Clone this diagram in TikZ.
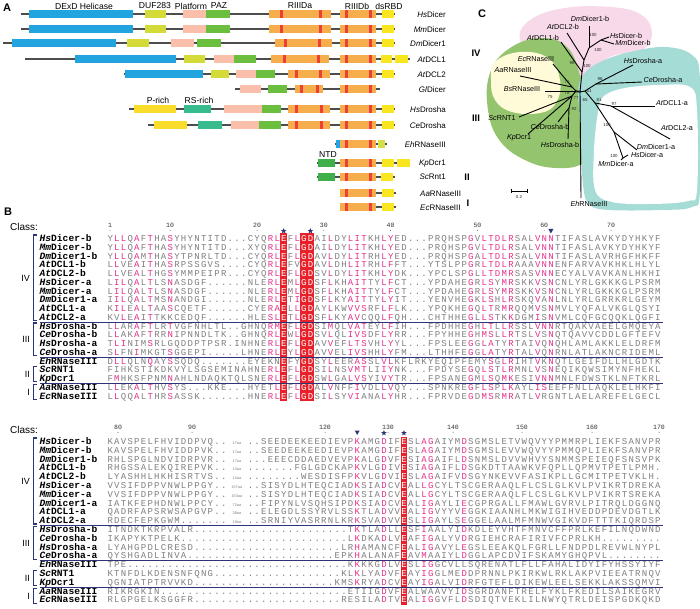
\documentclass[tikz,border=0pt]{standalone}
\usepackage{fontspec}
\setmainfont{Liberation Sans}
\setmonofont{Liberation Mono}
\usetikzlibrary{shapes.geometric}

% domain colours
\definecolor{helicase}{HTML}{22A5DE}
\definecolor{duf}{HTML}{D4DB39}
\definecolor{platform}{HTML}{FABFAB}
\definecolor{paz}{HTML}{6CBE3F}
\definecolor{rnase}{HTML}{F6AD4C}
\definecolor{rnred}{HTML}{EE3F36}
\definecolor{dsrbd}{HTML}{F9E620}
\definecolor{prich}{HTML}{FADD2A}
\definecolor{rsrich}{HTML}{38BC8E}
\definecolor{ntd}{HTML}{3FAF4A}
\definecolor{ehds}{HTML}{D5DF48}
\definecolor{bbgray}{HTML}{4D4D4D}
% alignment colours
\definecolor{respink}{HTML}{E5318B}
\definecolor{resgray}{HTML}{7F7F7F}
\definecolor{colred}{HTML}{E8202A}
\definecolor{navy}{HTML}{2E3576}
% tree colours
\definecolor{cladepink}{HTML}{F8D9EA}
\definecolor{cladegreen}{HTML}{94C56E}
\definecolor{cladeyellow}{HTML}{FFFBD8}
\definecolor{cladeteal}{HTML}{A6DCD6}

% one residue per column, lower case = conserved (pink), - = blank,
% residues in the invariant (red) columns are set in white
\newlength\colw
\setlength\colw{6.68pt}
\newcount\rescol
\newif\ifredcol
\def\redtestA{\redcolfalse\ifnum\rescol=27 \redcoltrue\fi\ifnum\rescol=30 \redcoltrue\fi\ifnum\rescol=31 \redcoltrue\fi}
\def\redtestB{\redcolfalse\ifnum\rescol=45 \redcoltrue\fi}
\let\redtest\redtestA
\newcommand\resone[1]{\global\advance\rescol by 1 \redtest
  \makebox[\colw]{\ifredcol\textcolor{white}{#1}\else\ifnum`#1>96 \textcolor{respink}{\uppercase{#1}}\else\ifx-#1\else#1\fi\fi\fi}}
\def\resloop#1{\ifx\relax#1\else\resone{#1}\expandafter\resloop\fi}
\newcommand\alnrow[5]{%
  \node[seqname] (#2) at (39.5,#1) {\textit{#3}#4};
  \node[seqtext] (#2-res) at (106.66,#1) {\global\rescol=0 \resloop#5\relax};}
\newcommand\dombox[4]{\fill[#1] (#2,#4-4) rectangle (#3,#4+4);}
\newcommand\rstripe[2]{\fill[rnred] (#1,#2-4) rectangle (#1+3.2,#2+4);}
\newcommand\rnasea[5]{\dombox{rnase}{#1}{#2}{#5}\rstripe{#3}{#5}\rstripe{#4}{#5}}
\newcommand\rnaseb[1]{\dombox{rnase}{340}{376}{#1}\rstripe{345}{#1}\rstripe{368.5}{#1}}

\begin{document}
\begin{tikzpicture}[x=1pt, y=-1pt,
  backbone/.style={draw=bbgray, line width=1.1pt},
  domlabel/.style={font=\fontsize{8.6}{9}\selectfont, inner sep=0pt},
  protlabel/.style={font=\fontsize{8}{9}\selectfont, inner sep=0pt, anchor=east},
  classA/.style={font=\fontsize{9.5}{10}\selectfont\bfseries, inner sep=0pt},
  panel/.style={font=\fontsize{11}{12}\selectfont\bfseries, inner sep=0pt},
  seqname/.style={font=\fontsize{9.6}{9.6}\selectfont\ttfamily\bfseries, inner sep=0pt, anchor=base west},
  seqtext/.style={font=\fontsize{9}{9}\selectfont\ttfamily, text=resgray, inner sep=0pt, anchor=base west},
  colnum/.style={font=\fontsize{6.5}{7}\selectfont\ttfamily, text=black!80, inner sep=0pt},
  inslabel/.style={font=\fontsize{3.8}{4}\selectfont, text=resgray, inner sep=0pt, anchor=base},
  sepline/.style={draw=navy, line width=0.9pt},
  bracket/.style={draw=navy, line width=1.1pt},
  romanB/.style={font=\fontsize{9}{10}\selectfont, inner sep=0pt, anchor=east},
  starmark/.style={star, star points=5, star point ratio=2.4, fill=navy, inner sep=0pt, minimum size=6pt},
  branch/.style={draw=black, line width=0.9pt},
  leaf/.style={font=\fontsize{7.2}{8}\selectfont, inner sep=0pt},
  boot/.style={font=\fontsize{4.4}{5}\selectfont, inner sep=0pt, text=black!85},
]
\useasboundingbox (0,0) rectangle (700,609);
\fill[white] (0,0) rectangle (700,609);

% Panel letters
\node[panel] (pA) at (7,8) {A};
\node[panel] (pB) at (8,212) {B};
\node[panel] (pC) at (482,14) {C};

%%%%%%%%%%%%%%%% A: domain maps
\node[domlabel] (lhel) at (84,6) {DExD Helicase};
\node[domlabel] (lduf) at (155,6) {DUF283};
\node[domlabel] (lplat) at (191,6) {Platform};
\node[domlabel] (lpaz) at (219,6) {PAZ};
\node[domlabel] (lra) at (300,6) {RIIIDa};
\node[domlabel] (lrb) at (357,6) {RIIIDb};
\node[domlabel] (lds) at (389,6) {dsRBD};
\node[domlabel] (lpr) at (158,100) {P-rich};
\node[domlabel] (lrs) at (199,100) {RS-rich};
\node[domlabel] (lntd) at (328,155) {NTD};

% HsDicer
\draw[backbone] (21,14) -- (395,14);
\dombox{helicase}{29}{133}{14}\dombox{duf}{145}{166}{14}\dombox{platform}{183}{206}{14}\dombox{paz}{206}{230}{14}
\rnasea{269}{331}{279.5}{318.5}{14}\rnaseb{14}\dombox{dsrbd}{382}{394}{14}
% MmDicer
\draw[backbone] (21,29) -- (395,29);
\dombox{helicase}{29}{133}{29}\dombox{duf}{145}{166}{29}\dombox{platform}{183}{206}{29}\dombox{paz}{206}{230}{29}
\rnasea{269}{331}{279.5}{318.5}{29}\rnaseb{29}\dombox{dsrbd}{382}{394}{29}
% DmDicer1
\draw[backbone] (3,43) -- (395,43);
\dombox{helicase}{12}{116}{43}\dombox{duf}{127}{149}{43}\dombox{platform}{171}{194}{43}\dombox{paz}{197}{221}{43}
\rnasea{275}{332}{284}{318}{43}\rnaseb{43}\dombox{dsrbd}{382}{394}{43}
% AtDCL1
\draw[backbone] (25,59) -- (410,59);
\dombox{helicase}{75}{176}{59}\dombox{duf}{184}{205}{59}\dombox{platform}{214}{234}{59}\dombox{paz}{234}{256}{59}
\rnasea{271}{329}{283}{317}{59}\rnaseb{59}\dombox{dsrbd}{381}{392}{59}\dombox{dsrbd}{395}{408}{59}
% AtDCL2
\draw[backbone] (124,74) -- (395,74);
\dombox{helicase}{125}{203}{74}\dombox{duf}{211}{229}{74}\dombox{platform}{236}{256}{74}\dombox{paz}{256}{275}{74}
\rnasea{288}{330}{295}{319}{74}\rnaseb{74}\dombox{dsrbd}{382}{394}{74}
% GlDicer
\draw[backbone] (235,89) -- (380,89);
\dombox{platform}{240}{261}{89}\dombox{paz}{268}{287}{89}
\rnasea{295}{323}{300}{315.5}{89}\rnaseb{89}
% HsDrosha
\draw[backbone] (129,109) -- (395,109);
\dombox{prich}{134}{176}{109}\dombox{rsrich}{184}{211}{109}\dombox{platform}{224}{262}{109}\dombox{paz}{262}{281}{109}
\rnasea{288}{330}{295}{320}{109}\rnaseb{109}\dombox{dsrbd}{382}{394}{109}
% CeDrosha
\draw[backbone] (148,125) -- (395,125);
\dombox{prich}{154}{187}{125}\dombox{rsrich}{198}{222}{125}\dombox{platform}{231}{259}{125}\dombox{paz}{259}{281}{125}
\rnasea{288}{330}{295}{320}{125}\rnaseb{125}\dombox{dsrbd}{382}{394}{125}
% EhRNaseIII
\draw[backbone] (335,144) -- (387,144);
\dombox{helicase}{336}{339.5}{144}\rnaseb{144}\dombox{ehds}{378}{385}{144}
% KpDcr1
\draw[backbone] (317,163) -- (410,163);
\dombox{ntd}{318}{335}{163}\rnaseb{163}\dombox{dsrbd}{382}{394}{163}\dombox{dsrbd}{397}{410}{163}
% ScRnt1
\draw[backbone] (317,177) -- (395,177);
\dombox{ntd}{318}{335}{177}\rnaseb{177}\dombox{dsrbd}{381}{393}{177}
% AaRNaseIII
\draw[backbone] (340,193) -- (396,193);
\rnaseb{193}\dombox{dsrbd}{382}{394}{193}
% EcRNaseIII
\draw[backbone] (340,207) -- (396,207);
\rnaseb{207}\dombox{dsrbd}{382}{394}{207}

% protein names
\node[protlabel] (nHs) at (446,15) {\textit{Hs}Dicer};
\node[protlabel] (nMm) at (446,30) {\textit{Mm}Dicer};
\node[protlabel] (nDm) at (446,44) {\textit{Dm}Dicer1};
\node[protlabel] (nAt1) at (446,60) {\textit{At}DCL1};
\node[protlabel] (nAt2) at (446,75) {\textit{At}DCL2};
\node[protlabel] (nGl) at (446,90) {\textit{Gl}Dicer};
\node[protlabel] (nHsD) at (446,110) {\textit{Hs}Drosha};
\node[protlabel] (nCeD) at (446,126) {\textit{Ce}Drosha};
\node[protlabel] (nEh) at (446,145) {\textit{Eh}RNaseIII};
\node[protlabel] (nKp) at (446,164) {\textit{Kp}Dcr1};
\node[protlabel] (nSc) at (446,177) {\textit{Sc}Rnt1};
\node[protlabel, anchor=west] (nAa) at (420,194) {\textit{Aa}RNaseIII};
\node[protlabel, anchor=west] (nEc) at (420,208) {\textit{Ec}RNaseIII};
\node[classA] (cIV) at (476,53) {IV};
\node[classA] (cIII) at (476,118) {III};
\node[classA] (cII) at (467,177) {II};
\node[classA] (cI) at (468,203) {I};

%%%%%%%%%%%%%%%% C: tree
% Draw the clade backgrounds
\fill[cladepink] plot[smooth cycle, tension=0.7] coordinates {(520,40) (530,20) (565,8) (610,7) (640,14) (652,32) (642,50) (612,56) (597,68) (586,84) (570,76) (540,55)};
\fill[cladegreen] plot[smooth cycle, tension=0.7] coordinates {(542,38) (568,48) (581,78) (590,108) (592,143) (583,163) (557,168) (527,161) (500,141) (488,110) (490,73) (510,48)};
\fill[cladeyellow] plot[smooth cycle, tension=0.7] coordinates {(495,62) (520,52) (548,58) (560,80) (556,103) (540,113) (512,112) (495,100) (491,80)};
\fill[cladeteal] plot[smooth cycle, tension=0.6] coordinates {(583,75) (600,62) (630,52) (665,47) (692,55) (700,80) (700,190) (692,207) (660,210) (610,210) (590,205) (583,185) (580,120) (578,92)};
\fill[white] plot[smooth cycle, tension=0.6] coordinates {(604,96) (625,88) (660,85) (690,87) (697,110) (697,190) (688,201) (650,204) (612,202) (595,190) (594,150) (598,112)};

% internal nodes
\coordinate (c0) at (580,92);
\coordinate (db1) at (582,72);
\coordinate (db2) at (584,60);
\coordinate (db3) at (589,48);
\coordinate (db4) at (601,40);
\coordinate (gr1) at (576,91);
\coordinate (gr2) at (572,87);
\coordinate (gr3) at (572,96);
\coordinate (gr4) at (569,108);
\coordinate (te1) at (585,91);
\coordinate (te2) at (596,84);
\coordinate (te3) at (595,103);
\coordinate (te4) at (611,106);
\coordinate (te5) at (614,132);
\coordinate (te6) at (623,158);
% leaves
\coordinate (lDm1b) at (589,26);
\coordinate (lAt2b) at (567,33);
\coordinate (lAt1b) at (561,42);
\coordinate (lHsb) at (609,37);
\coordinate (lMmb) at (614,44);
\coordinate (lEc) at (553,64);
\coordinate (lAa) at (520,76);
\coordinate (lBs) at (545,91);
\coordinate (lSc) at (519,117);
\coordinate (lKp) at (528,134);
\coordinate (lCeb) at (558,122);
\coordinate (lHsDb) at (568,139);
\coordinate (lHsDa) at (633,65);
\coordinate (lCeDa) at (642,82);
\coordinate (lAt1a) at (655,106);
\coordinate (lAt2a) at (670,139);
\coordinate (lDm1a) at (637,150);
\coordinate (lHsa) at (628,155);
\coordinate (lMma) at (621,160);
\coordinate (lEh) at (581,198);

% Draw the branches
\foreach \a/\b in {c0/db1, db1/lAt1b, db1/db2, db2/lAt2b, db2/db3, db3/lDm1b, db3/db4, db4/lHsb, db4/lMmb,
                   c0/gr1, gr1/gr2, gr2/lEc, gr2/lAa, gr1/lBs, gr1/gr3, gr3/lSc, gr3/lKp, gr3/gr4, gr4/lCeb, gr4/lHsDb,
                   c0/te1, te1/te2, te2/lHsDa, te2/lCeDa, c0/lEh, te1/te3, te3/te4, te4/lAt1a, te4/lAt2a,
                   te3/te5, te5/lDm1a, te5/te6, te6/lHsa, te6/lMma}
  \draw[branch] (\a) -- (\b);

% leaf names
\node[leaf] (tDm1b) at (590,19) {\textit{Dm}Dicer1-b};
\node[leaf] (tAt2b) at (563,27) {\textit{At}DCL2-b};
\node[leaf] (tAt1b) at (543,38) {\textit{At}DCL1-b};
\node[leaf] (tHsb) at (626,36) {\textit{Hs}Dicer-b};
\node[leaf] (tMmb) at (633,43) {\textit{Mm}Dicer-b};
\node[leaf] (tEc) at (536,59) {\textit{Ec}RNaseIII};
\node[leaf] (tAa) at (513,70) {\textit{Aa}RNaseIII};
\node[leaf] (tBs) at (522,89) {\textit{Bs}RNaseIII};
\node[leaf] (tSc) at (502,118) {\textit{Sc}RNT1};
\node[leaf] (tKp) at (519,138) {\textit{Kp}Dcr1};
\node[leaf] (tCeb) at (550,127) {\textit{Ce}Drosha-b};
\node[leaf] (tHsDb) at (560,145) {\textit{Hs}Drosha-b};
\node[leaf] (tHsDa) at (643,61) {\textit{Hs}Drosha-a};
\node[leaf] (tCeDa) at (663,80) {\textit{Ce}Drosha-a};
\node[leaf] (tAt1a) at (672,103) {\textit{At}DCL1-a};
\node[leaf] (tAt2a) at (677,128) {\textit{At}DCL2-a};
\node[leaf] (tDm1a) at (656,147) {\textit{Dm}Dicer1-a};
\node[leaf] (tHsa) at (647,155) {\textit{Hs}Dicer-a};
\node[leaf] (tMma) at (616,164) {\textit{Mm}Dicer-a};
\node[leaf] (tEh) at (589,204) {\textit{Eh}RNaseIII};

% bootstrap values
\foreach \bx/\by/\bv [count=\k] in {593/35/100, 598/50/100, 572/63/98, 587/66/100, 600/79/96, 567/82/76, 567/93/78,
                                    550/97/75, 578/92/43, 589/91/61, 576/98/77, 585/100/65, 599/100/81, 614/104/97,
                                    574/109/92, 607/125/100, 614/156/100}
  \node[boot] (bs\k) at (\bx,\by) {\bv};

% scale bar
\coordinate (sb1) at (511,191);
\coordinate (sb2) at (527,191);
\draw[branch, line width=0.7pt] (sb1) -- (sb2);
\draw[line width=0.5pt] (511,189) -- (511,193) (527,189) -- (527,193);
\node[boot] (sbl) at (519,197) {0.2};

%%%%%%%%%%%%%%%% B: alignment, block 1
\node[font=\fontsize{10}{10}\selectfont, anchor=west, inner sep=0pt] (class1) at (10,227) {Class:};
\foreach \xx/\nn [count=\k] in {110/1, 170.1/10, 257/20, 323.8/30, 390.6/40, 477.4/50, 544.2/60, 611/70} {
  \node[colnum] (na\k) at (\xx,225.5) {\nn};
  \fill[black!80] (\xx,230.3) circle (0.45);
}
\node[starmark] (sa1) at (283.68,231) {};
\node[starmark] (sa2) at (310.4,231) {};
\fill[navy] (548.4,229) -- (553.4,229) -- (550.9,233.5) -- cycle;

% Draw the invariant columns
\fill[colred] (280.34,233.5) rectangle (287.02,401);
\fill[colred] (300.38,233.5) rectangle (313.74,401);

\let\redtest\redtestA
\alnrow{241.5}{a1}{Hs}{Dicer-b}{YllQaFtHAsYHYNTITD...CYQrlEFlGDAIlDYlitKHlyED...PRQHSPgVltdlrSALvnnTIFASLAVKYDYHKYF}
\alnrow{250.25}{a2}{Mm}{Dicer-b}{YllQaFtHAsYHYNTITD...XYQrlEFlGDAIlDYlitKHlyED...PRQHSPgVltdlrSALvnnTIFASLAVKYDYHKYF}
\alnrow{259}{a3}{Dm}{Dicer1-b}{YllQaMtHAsYTPNRLTD...CYQrlEFlGDAVlDYlitRHlyED...PRQHSPgAltdlrSALvnnTIFASLAVRHGFHKFF}
\alnrow{267.75}{a4}{At}{DCL1-b}{LlVEaItHAsRPSSGVS....CYQrlEFVGDAVlDHlitRHlfFT...YTSLPPgRltdlrAAAvnnENFARVAVKHKLHLYL}
\alnrow{276.5}{a5}{At}{DCL2-b}{LlVEaLtHGsYMMPEIPR...CYQrlEFlGDSVlDYlitKHlyDK...YPCLSPgLltdmrSASvnnECYALVAVKANLHKHI}
\alnrow{285.25}{a6}{Hs}{Dicer-a}{LilQaLtLSnASDGF......NLErlEMlGDSFlKHaitTYlfCT...YPDAHEgRlsYmrSKKvSnCNLYRLGKKKGLPSRM}
\alnrow{294}{a7}{Mm}{Dicer-a}{LilQaLtLSnASDGF......NLErlEMlGDSFlKHaitTYlfCT...YPDAHEgRlsYmrSKKvSnCNLYRLGKKKGLPSRM}
\alnrow{302.75}{a8}{Dm}{Dicer1-a}{IilQaLtMSnANDGI......NLErlETiGDSFlKYaitTYlyIT...YENVHEgKlsHlrSKQvAnLNLYRLGRRKRLGEYM}
\alnrow{311.5}{a9}{At}{DCL1-a}{KilEaLtAAsCQETF......CYEraELlGDAYlKWvvsRFlfLK...YPQKHEgQltRmrQQMvSnMVLYQFALVKGLQSYI}
\alnrow{320.25}{a10}{At}{DCL2-a}{KVlEaItTKKCEDQF......HLEslETlGDSFlKYavCQQlfQH...CHTHHEgLlsTKkDGMiSnVMLCQFGCQQKLQGFI}
\alnrow{329}{a11}{Hs}{Drosha-b}{LlARaFtLRtVGFNHLTL..GHNQrmEFlGDSImQLvatEYlfIH...FPDHHEgHltLlrSSLvnnRTQAKVAEELGMQEYA}
\alnrow{337.75}{a12}{Ce}{Drosha-b}{LlAKaFtRRnIPNNDLTK..GHNQrlEWlGDSVlQLivsDFlyRR...FPYHHEgHmsLlrTSLvSnQTQAVVCDDLGFTEFV}
\alnrow{346.5}{a13}{Hs}{Drosha-a}{TliNIMsRLGQDDPTPSR.INHNErlEFlGDAVvEFltsVHlyYL...FPSLEEgGlaTYrTAIvQnQHLAMLAKKLELDRFM}
\alnrow{355.25}{a14}{Ce}{Drosha-a}{SlFNiMKGTsGGEPI.....LHNErlEYlGDAVvELivsHHlyFM...LTHHFEgGlaTYrTALvQnRNLATLAKNCRIDEML}
\alnrow{364}{a15}{Eh}{RNaseIII}{DllQLNqAYsSQDQ.......EYEKNEFYGDSYlEERasSLvlKFLRKYEQIPFEMYsGlrIHTvKnQTLGEIFDLLHLGDTK}
\alnrow{372.75}{a16}{Sc}{RNT1}{FIHKSTIKDKVYLSGSEMINAHNErlEFlGDSIlNSvmtLIiyNK...FPDYSEgQlsTlrMNLvSnEQIKQWSIMYNFHEKL}
\alnrow{381.5}{a17}{Kp}{Dcr1}{FmHKSFPNMnAHLNDAQKTQLSNErlEFlGDSWlGAlvsYIvyTR...FPSANEgMlsQmkESIvnnMNLFDWSTKLNFTKRL}
\alnrow{390.25}{a18}{Aa}{RNaseIII}{LlEKaLtHVsYS...KKE...HYETlEFlGDALvNFFiVDLlvQY...SPNKREgFlsPlkAYLisEEFFNLLAQKLELHKFI}
\alnrow{399}{a19}{Ec}{RNaseIII}{LlQQaLtHRsASSK.......HNErlEFlGDSIlSYviANAlyHR...FPRVDEgDmsRmrATLvRGNTLAELAREFELGECL}

% class separators and brackets
\draw[sepline] (39.5,322.25) -- (663,322.25);
\draw[sepline] (39.5,357.25) -- (663,357.25);
\draw[sepline] (39.5,383.5) -- (663,383.5);
\draw[bracket] (37,235) -- (33.5,235) -- (33.5,320.5) -- (37,320.5);
\draw[bracket] (37,323) -- (33.5,323) -- (33.5,355.5) -- (37,355.5);
\draw[bracket] (37,366.5) -- (33.5,366.5) -- (33.5,381.5) -- (37,381.5);
\draw[bracket] (37,384.5) -- (33.5,384.5) -- (33.5,399.5) -- (37,399.5);
\node[romanB] (ra4) at (30,278) {IV};
\node[romanB] (ra3) at (30,339.5) {III};
\node[romanB] (ra2) at (30,374) {II};
\node[romanB] (ra1) at (30,392) {I};

%%%%%%%%%%%%%%%% B: alignment, block 2
\node[font=\fontsize{10}{10}\selectfont, anchor=west, inner sep=0pt] (class2) at (10,430) {Class:};
\foreach \xx/\nn [count=\k] in {118/80, 192/90, 325/120, 388/130, 453/140, 522/150, 592/160, 659/170} {
  \node[colnum] (nb\k) at (\xx,427.5) {\nn};
  \fill[black!80] (\xx,432.3) circle (0.45);
}
\fill[navy] (354.7,430.5) -- (359.7,430.5) -- (357.2,435) -- cycle;
\node[starmark] (sb1s) at (383.9,433) {};
\node[starmark] (sb2s) at (403.9,433) {};

% Draw the invariant column
\fill[colred] (400.58,436.5) rectangle (407.26,605);

\let\redtest\redtestB
\alnrow{444.5}{b1}{Hs}{Dicer-b}{KAVSPELFHVIDDPVQ..---..SEEDEEKEEDIEVPkAMGdIFESLagAIYMdSGMSLETVWQVYYPMMRPLIEKFSANVPR}
\alnrow{453.3}{b2}{Mm}{Dicer-b}{KAVSPELFHVIDDPVK..---..SEEDEEKEEDIEVPkAMGdIFESLagAIYMdSGMSLEVVWQVYYPMMQPLIEKFSANVPR}
\alnrow{462.1}{b3}{Dm}{Dicer1-b}{RHLSPGLNDVIDRPVR..---...EEECDDAEDVEVPkALGdVFESIagAIFLdSNMSLDVVWHVYSNMMSPEIEQFSNSVPK}
\alnrow{470.9}{b4}{At}{DCL1-b}{RHGSSALEKQIREPVK..---.......FGLGDCKAPkVLGdIVESIagAIFLdSGKDTTAAWKVFQPLLQPMVTPETLPMH.}
\alnrow{479.7}{b5}{At}{DCL2-b}{LYASHHLHKHISRTVS..---........WESDISFPkVLGdVIESLagAIFVdSGYNKEVVFASIKPLLGCMITPETVKLH.}
\alnrow{488.5}{b6}{Hs}{Dicer-a}{VVSIFDPPVNWLPPGY..---..SISYDLHTEQCIADkSIAdCVEALlgCYLTSCGERAAQLFLCSLGLKVLPVIKRTDREKA}
\alnrow{497.3}{b7}{Mm}{Dicer-a}{VVSIFDPPVNWLPPGY..---..SISYDLHTEQCIADkSIAdCVEALlgCYLTSCGERAAQLFLCSLGLKVLPVIKRTSREKA}
\alnrow{506.1}{b8}{Dm}{Dicer1-a}{IATKFEPHDNWLPPCY..---..FIPYNLVSQHSIPDkSIAdCVEALigAYLIeCGPRGALLFMAWLGVRVLPITRQLDGGNQ}
\alnrow{514.9}{b9}{At}{DCL1-a}{QADRFAPSRWSAPGVP..---..ELEGDLSSYRVLSSkTLAdVVEALigVYYVeGGKIAANHLMKWIGIHVEDDPDEVDGTLK}
\alnrow{523.7}{b10}{At}{DCL2-a}{RDECFEPKGWM.......---..SRNIYVASRRNLKRkSVAdVVESLigAYLSeGGELAALMFMNWVGIKVDFTTTKIQRDSP}
\alnrow{532.5}{b11}{Hs}{Drosha-b}{ITNDKTKRPVALR.......................TkTLAdLLESFiAALYIdKDLEYVHTFMNVCFFPRLKEFILNQDWND}
\alnrow{541.3}{b12}{Ce}{Drosha-b}{IKAPYKTPELK.........................LkDKAdLVEAFigALYVdRGIEHCRAFIRIVFCPRLKH.........}
\alnrow{550.1}{b13}{Hs}{Drosha-a}{LYAHGPDLCRESD......................LRhAMANCFEALigAVYLeGSLEEAKQLFGRLLFNDPDLREVWLNYPL}
\alnrow{558.9}{b14}{Ce}{Drosha-a}{QYSHGADLINVA......................EPKhALANAFEAVmAAIYLdGGLAPCDVIFSKAMYGHQPVL........}
\alnrow{567.7}{b15}{Eh}{RNaseIII}{TPE.................................KkKKGdLVESLigGCVLLSQRENATLFLLFAHALIDYIFYHSSYIYF}
\alnrow{576.5}{b16}{Sc}{RNT1}{KTNFDLKDENSNFQNG...................KLkLYAdVFEAYigGLMEdDPRNNLPKIRKWLRKLAKPVIEEATRNQV}
\alnrow{585.3}{b17}{Kp}{Dcr1}{QGNIATPTRVVKD.....................KMSkRYAdCVEAYigALVIdRFGTEFLDIKEWLEELSEKKLAKSSQMVI}
\alnrow{594.1}{b18}{Aa}{RNaseIII}{RIKRGKIN............................ETIIGdVFEALWAAVYIdSGRDANFTRELFYKLFKEDILSAIKEGRV}
\alnrow{602.9}{b19}{Ec}{RNaseIII}{RLGPGELKSGGFR......................RESILAdTVEALigGVFLdSDIQTVEKLILNWYQTRLDEISPGDKQKD}

% insertion lengths
\foreach \yb/\ins [count=\k] in {444.5/17aa, 453.3/17aa, 462.1/17aa, 470.9/13aa, 479.7/12aa, 488.5/157aa,
                                 497.3/153aa, 506.1/72aa, 514.9/38aa, 523.7/18aa}
  \node[inslabel] (ins\k) at (236.9,\yb) {\ins};

% class separators and brackets
\draw[sepline] (39.5,525.7) -- (663,525.7);
\draw[sepline] (39.5,560.9) -- (663,560.9);
\draw[sepline] (39.5,587.3) -- (663,587.3);
\draw[bracket] (37,438) -- (33.5,438) -- (33.5,524) -- (37,524);
\draw[bracket] (37,526.5) -- (33.5,526.5) -- (33.5,559.2) -- (37,559.2);
\draw[bracket] (37,570.5) -- (33.5,570.5) -- (33.5,585.6) -- (37,585.6);
\draw[bracket] (37,588.5) -- (33.5,588.5) -- (33.5,603.2) -- (37,603.2);
\node[romanB] (rb4) at (30,481) {IV};
\node[romanB] (rb3) at (30,543) {III};
\node[romanB] (rb2) at (30,578) {II};
\node[romanB] (rb1) at (30,596) {I};

\end{tikzpicture}
\end{document}
